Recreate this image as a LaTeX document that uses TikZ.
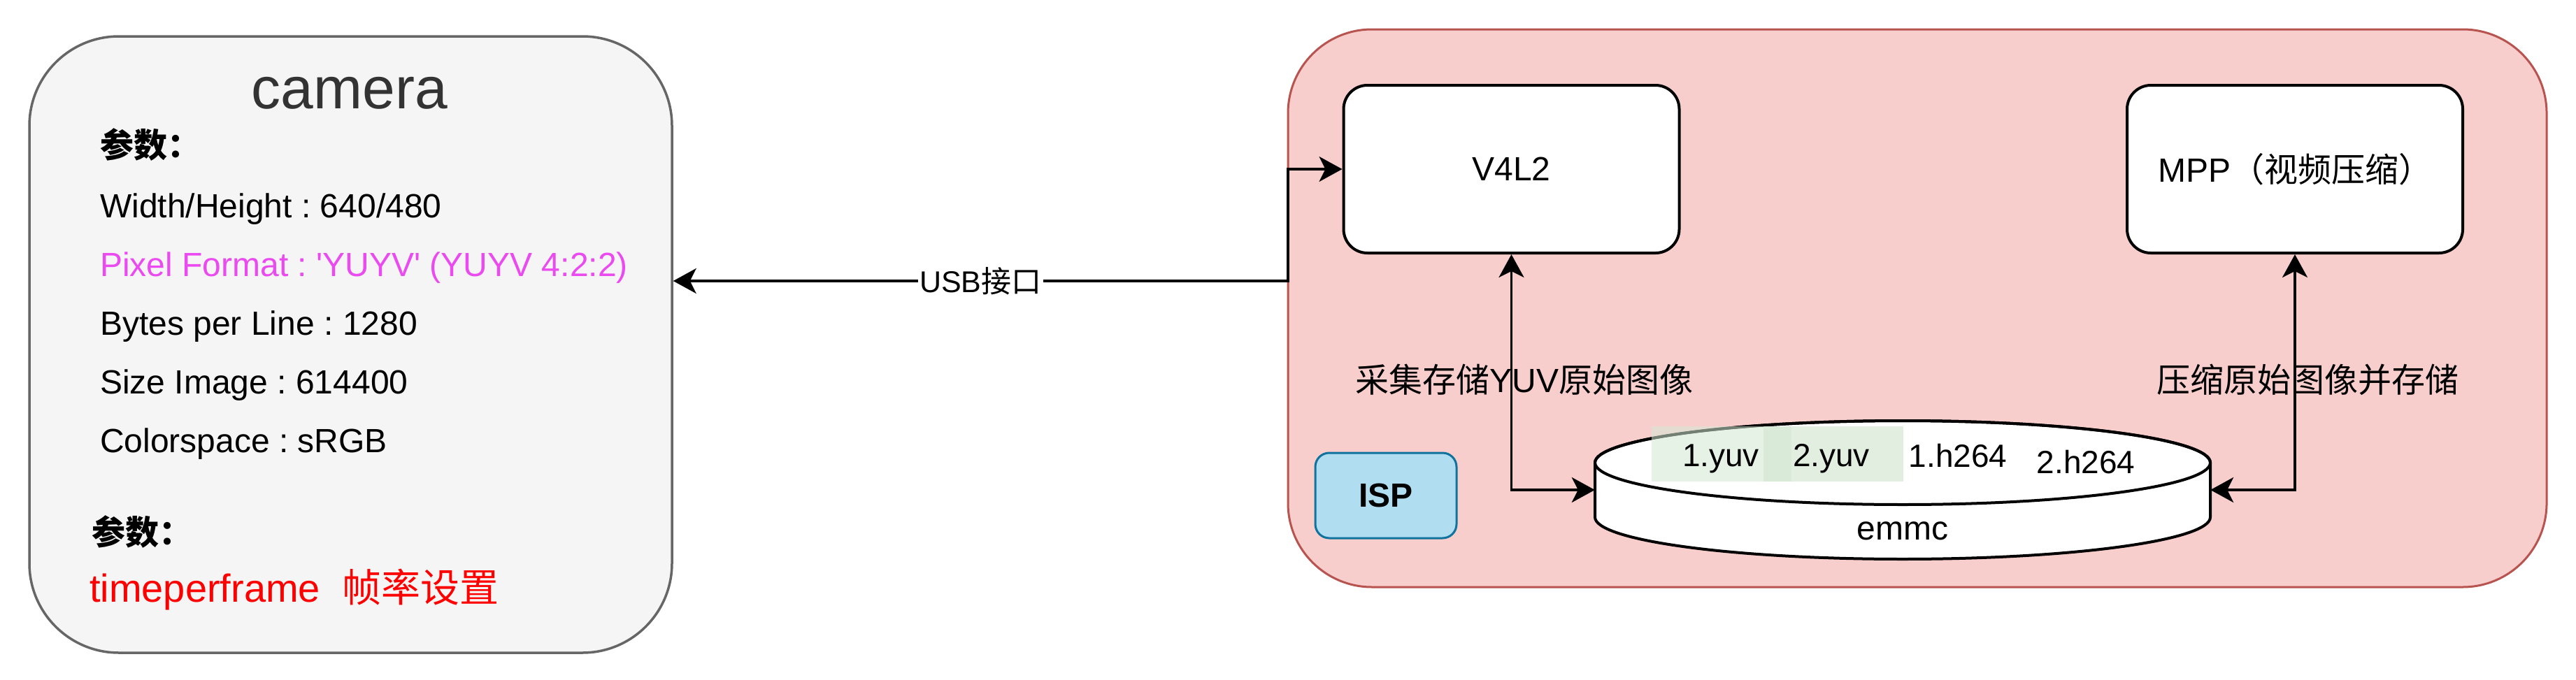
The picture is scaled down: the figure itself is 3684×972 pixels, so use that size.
\documentclass[tikz,border=0pt]{standalone}
\usepackage{fontspec}
\setmainfont{Liberation Sans}[Ligatures=TeXOff]
\newfontfamily\cjk{Noto Sans CJK SC}
\usetikzlibrary{arrows.meta}
\frenchspacing

\definecolor{camfill}{HTML}{F5F5F5}
\definecolor{camline}{HTML}{666666}
\definecolor{boardfill}{HTML}{F8CECC}
\definecolor{boardline}{HTML}{B85450}
\definecolor{ispfill}{HTML}{B1DDF0}
\definecolor{ispline}{HTML}{10739E}
\definecolor{filegreen}{HTML}{D5E8D4}
\definecolor{fmtpink}{HTML}{EA4AF0}
\definecolor{titlegray}{HTML}{333333}

\tikzset{
  txt/.style={font=\fontsize{48}{56}\selectfont},
  param/.style={txt, anchor=base west, inner sep=0pt},
  block/.style={txt, draw, line width=4pt, fill=white, rounded corners=34pt,
    minimum width=480pt, minimum height=240pt},
  file/.style={anchor=base, inner sep=0pt, font=\fontsize{46}{54}\selectfont},
  link/.style={line width=3.5pt,
    {Stealth[length=33pt,width=36pt,inset=9pt]}-{Stealth[length=33pt,width=36pt,inset=9pt]}},
}

\begin{document}
\begin{tikzpicture}[x=1pt,y=-1pt]
  \useasboundingbox (0,0) rectangle (3684,972);

  \node[draw=camline, fill=camfill, line width=3.5pt, rounded corners=128pt,
    minimum width=919pt, minimum height=882pt, inner sep=0pt] (camera) at (501.5,493) {};
  \node[anchor=base, inner sep=0pt, text=titlegray, font=\fontsize{84}{96}\selectfont]
    (title) at (500,155) {camera};
  \node[param, font=\cjk\bfseries\fontsize{48}{56}\selectfont] (head) at (143,225) {参数：};
  \node[param] (wh) at (143,311) {Width/Height : 640/480};
  \node[param, text=fmtpink] (pixfmt) at (143,395) {Pixel Format : 'YUYV' (YUYV 4:2:2)};
  \node[param] (bpl) at (143,479) {Bytes per Line : 1280};
  \node[param] (sizeimg) at (143,563) {Size Image : 614400};
  \node[param] (cspace) at (143,647) {Colorspace : sRGB};
  \node[param, font=\cjk\bfseries\fontsize{48}{56}\selectfont] (head2) at (131,779) {参数：};
  \node[param, text=red, font=\fontsize{56}{64}\selectfont] (tpf) at (128,861)
    {timeperframe\ \ {\cjk 帧率设置}};

  \node[draw=boardline, fill=boardfill, line width=3pt, rounded corners=120pt,
    minimum width=1800pt, minimum height=798pt, inner sep=0pt] (board) at (2742,441) {};
  \node[block] (v4l2) at (2161.5,242) {V4L2};
  \node[block] (mpp) at (3282,242) {MPP{\cjk （视频压缩）}};
  \node[draw=ispline, fill=ispfill, line width=3pt, rounded corners=20pt,
    minimum width=202pt, minimum height=122pt,
    font=\bfseries\fontsize{48}{56}\selectfont] (isp) at (1982,709) {ISP};

  \node[minimum width=880pt, minimum height=198pt, inner sep=0pt] (emmc) at (2721,701) {};
  \draw[line width=4pt, fill=white] (2281,662) -- (2281,740) arc (180:0:440 and 60)
    -- (3161,662) arc (0:-180:440 and 60) -- cycle;
  \draw[line width=4pt] (2721,662) ellipse [x radius=440, y radius=60];
  \fill[filegreen, opacity=0.7] (2522,610) rectangle (2722,689);
  \fill[filegreen, opacity=0.55] (2362,610) rectangle (2562,689);
  \node[file] (yuv1) at (2461,667) {1.yuv};
  \node[file] (yuv2) at (2619,667) {2.yuv};
  \node[file] (h2641) at (2800,668) {1.h264};
  \node[file] (h2642) at (2983,677) {2.h264};
  \node[txt, anchor=base, inner sep=0pt] (emmclabel) at (2721,772) {emmc};

  \coordinate (usbbend) at (1842,402);
  \draw[link] (camera.east |- usbbend) -- node[fill=white, inner sep=2pt,
    font=\fontsize{43}{50}\selectfont] (usb) {USB{\cjk 接口}} (usbbend) |- (v4l2.west);
  \draw[link] (v4l2.south) |- (emmc.west);
  \draw[link] (mpp.south) |- (emmc.east);

  \node[txt, inner sep=0pt] (capture) at (2180,543) {{\cjk 采集存储}YUV{\cjk 原始图像}};
  \node[txt, inner sep=0pt] (compress) at (3300,543) {{\cjk 压缩原始图像并存储}};
\end{tikzpicture}
\end{document}
